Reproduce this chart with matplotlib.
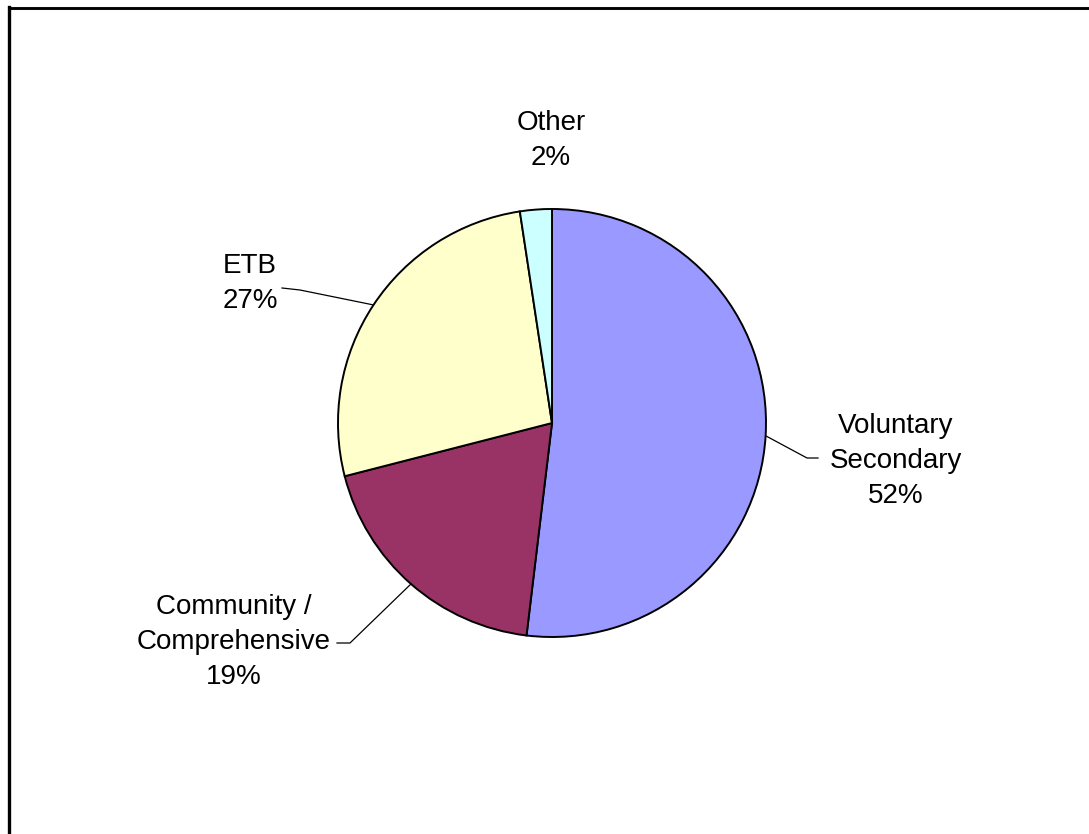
import numpy as np
import matplotlib.pyplot as plt
from matplotlib.lines import Line2D

# data
categories = ['Voluntary\nSecondary', 'Community /\nComprehensive', 'ETB', 'Other']
shares = [51.9, 19.1, 26.6, 2.4]
pct_labels = ['52%', '19%', '27%', '2%']
colors = ['#9999FF', '#993366', '#FFFFCC', '#CCFFFF']

W, H = 1089, 834
fig = plt.figure(figsize=(W / 100, H / 100), dpi=100)
fig.patch.set_facecolor('white')
ax = fig.add_axes([0, 0, 1, 1])

# pie center / radius in pixel units (y measured from bottom)
cx, cy, r = 552, H - 423, 214

wedges, _ = ax.pie(shares, colors=colors, startangle=90, counterclock=False,
                   center=(cx, cy), radius=r,
                   wedgeprops=dict(edgecolor='black', linewidth=1.4))
ax.set_xlim(0, W)
ax.set_ylim(0, H)
ax.set_aspect('equal')
ax.axis('off')

# label text positions (pixel coords from top) and leader elbows
label_pos = [(896, 461), (234, 642), (250, 283), (551, 140)]
elbows = [[(807, 458), (818, 458)],
          [(350, 643), (337, 643)],
          [(300, 290), (282, 288)],
          None]

for w, cat, pct, pos, elb in zip(wedges, categories, pct_labels, label_pos, elbows):
    ax.text(pos[0], H - pos[1], cat + '\n' + pct, ha='center', va='center',
            fontsize=20, family='Liberation Sans', linespacing=1.45)
    if elb is None:
        continue
    mid = np.deg2rad((w.theta1 + w.theta2) / 2)
    ax_x = cx + r * np.cos(mid)
    ax_y = cy + r * np.sin(mid)
    xs = [ax_x] + [p[0] for p in elb]
    ys = [ax_y] + [H - p[1] for p in elb]
    ax.plot(xs, ys, color='black', lw=0.9)

# chart frame (only top and left edges visible in the crop)
fig.add_artist(Line2D([9 / W, 1], [1 - 8 / H, 1 - 8 / H], color='#888888', lw=2.2,
                      transform=fig.transFigure))
fig.add_artist(Line2D([9 / W, 1], [1 - 7.5 / H, 1 - 7.5 / H], color='black', lw=2.0,
                      transform=fig.transFigure))
fig.add_artist(Line2D([9 / W, 9 / W], [0, 1 - 7 / H], color='black', lw=2.4,
                      transform=fig.transFigure))

fig.savefig('out.png', dpi=100)
